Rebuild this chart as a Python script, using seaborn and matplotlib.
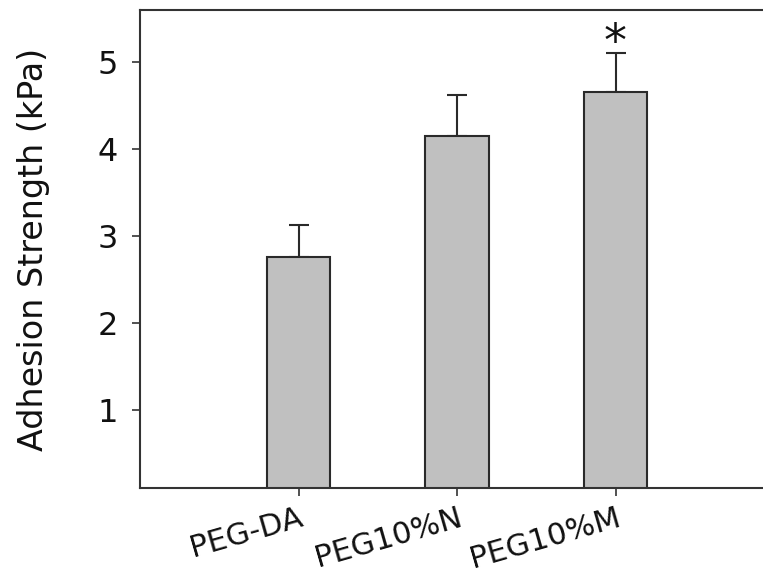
import pandas as pd
import matplotlib
matplotlib.use('Agg')
import matplotlib.pyplot as plt
import seaborn as sns

# values
groups = ['PEG-DA', 'PEG10%N', 'PEG10%M']
strength = [2.76, 4.15, 4.66]
sem = [0.37, 0.47, 0.44]
marks = ['', '', '*']

df = pd.DataFrame({'group': groups, 'strength': strength})

sns.set_style('ticks')
plt.rcParams['font.family'] = ['DejaVu Sans']

fig = plt.figure(figsize=(7.63, 5.81), dpi=100)
ax = fig.add_axes([0.1835, 0.160, 0.8165, 0.823])

sns.barplot(x='group', y='strength', data=df, color='#c0c0c0', width=0.4,
            edgecolor='#2a2a2a', linewidth=1.5, errorbar=None, saturation=1, ax=ax)

# upper-only error bars
ax.errorbar(range(len(groups)), strength, yerr=[[0] * len(sem), sem], fmt='none',
            ecolor='#2a2a2a', elinewidth=1.5, capsize=7, capthick=1.5, zorder=0)

for i, m in enumerate(marks):
    if m:
        ax.text(i, strength[i] + sem[i] - 0.03, m, ha='center', va='baseline',
                fontsize=33, color='#111111')

ax.set_ylim(0.1, 5.6)
ax.set_xlim(-1.0, 2.93)
ax.set_yticks([1, 2, 3, 4, 5])
ax.set_xlabel('')
ax.set_ylabel('Adhesion Strength (kPa)', fontsize=24, labelpad=34, color='#111111')

ax.tick_params(axis='y', labelsize=23, length=6, width=1.2, pad=10,
               direction='out', color='#333333', labelcolor='#111111')
ax.tick_params(axis='x', labelsize=22, length=6, width=1.2, pad=5,
               direction='out', color='#333333', labelcolor='#111111')
for lab in ax.get_xticklabels():
    lab.set_rotation(16)
    lab.set_ha('right')
    lab.set_rotation_mode('anchor')

for s in ['left', 'top', 'bottom']:
    ax.spines[s].set_color('#333333')
    ax.spines[s].set_linewidth(1.5)
ax.spines['right'].set_visible(False)

plt.savefig('out.png', dpi=100)
